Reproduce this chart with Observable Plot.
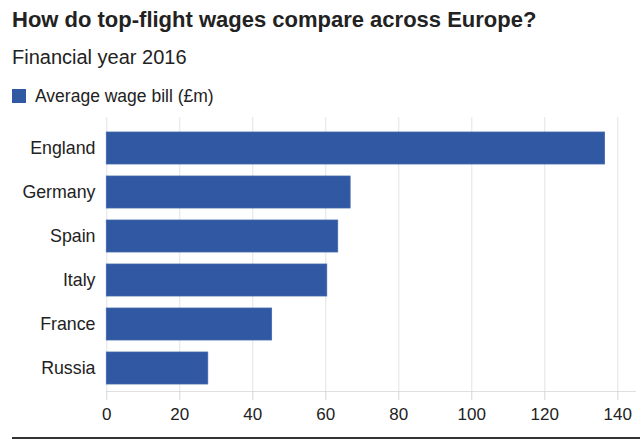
<!DOCTYPE html>
<html><head><meta charset="utf-8">
<script src="https://cdn.jsdelivr.net/npm/d3@7"></script>
<script src="https://cdn.jsdelivr.net/npm/@observablehq/plot@0.6"></script>
<style>
body{margin:0;width:640px;height:442px;position:relative;font-family:"Liberation Sans",Arial,Helvetica,sans-serif;color:#222;background:#fff;overflow:hidden}
#title{position:absolute;left:12px;top:7px;font-size:22px;font-weight:bold;line-height:26px;white-space:nowrap}
#subtitle{position:absolute;left:12px;top:45px;font-size:20px;line-height:24px;white-space:nowrap}
#legend{position:absolute;left:12px;top:86px;font-size:17.5px;line-height:20px;white-space:nowrap;display:flex;align-items:center}
#legend .sw{display:inline-block;width:14px;height:14px;margin-right:9px}
#chart{position:absolute;left:0;top:100px}
#rule{position:absolute;left:12px;right:0;top:437px;height:2px;background:#333}
</style></head>
<body>
<div id="title"></div>
<div id="subtitle"></div>
<div id="legend"><span class="sw"></span><span class="lt"></span></div>
<div id="chart"></div>
<div id="rule"></div>
<script>
const titleText = "How do top-flight wages compare across Europe?";
const subtitleText = "Financial year 2016";
const seriesLabel = "Average wage bill (£m)";
const countries = ["England", "Germany", "Spain", "Italy", "France", "Russia"];
const wages = [136.5, 66.8, 63.4, 60.4, 45.3, 27.8];
const xTicks = [0, 20, 40, 60, 80, 100, 120, 140];
const barColor = "#3159a3";

document.getElementById("title").textContent = titleText;
document.getElementById("subtitle").textContent = subtitleText;
document.querySelector("#legend .sw").style.background = barColor;
document.querySelector("#legend .lt").textContent = seriesLabel;

const data = countries.map((c, i) => ({country: c, value: wages[i]}));

const chart = Plot.plot({
  width: 640,
  height: 342,
  marginTop: 17,
  marginBottom: 51,
  marginLeft: 106,
  marginRight: 5,
  style: {fontFamily: '"Liberation Sans", Arial, Helvetica, sans-serif', fontSize: "17px", color: "#222", background: "transparent"},
  x: {domain: [0, 140], range: [106.3, 617.3]},
  y: {domain: countries, range: [25.5, 289.5], paddingInner: 0.28, paddingOuter: 0.14},
  marks: [
    Plot.gridX(xTicks, {stroke: "#e3e3e3", strokeOpacity: 1, strokeWidth: 1}),
    Plot.frame({anchor: "bottom", stroke: "#e0e0e0"}),
    Plot.barX(data, {x: "value", y: "country", fill: barColor, stroke: "#3f66ad", strokeWidth: 0.8}),
    Plot.axisX(xTicks, {tickSize: 9, tickPadding: 7, stroke: "#d6d6d6", fill: "#222", fontSize: 17, label: null}),
    Plot.axisY({tickSize: 0, tickPadding: 11, fill: "#222", fontSize: 17.8, label: null})
  ]
});
document.getElementById("chart").appendChild(chart);
</script>
</body></html>
